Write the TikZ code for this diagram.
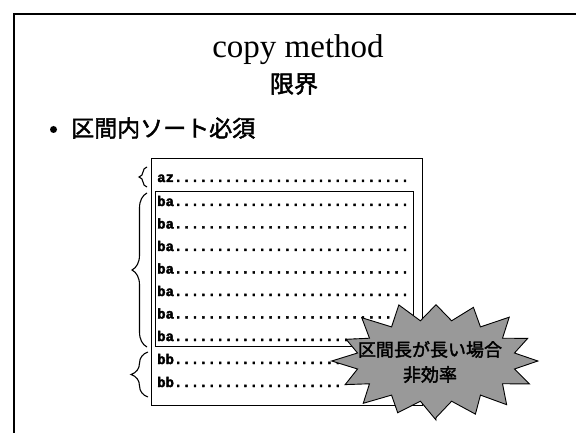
\documentclass[tikz,border=0pt]{standalone}
\usepackage{fontspec}
\setmainfont{Liberation Serif}
\newfontfamily\jp{Noto Sans CJK JP}[AutoFakeBold=2]
\newfontfamily\mono{Liberation Mono Bold}[FakeBold=2.5]
\usetikzlibrary{decorations.pathreplacing}
\tikzset{
  rowtxt/.style={anchor=base west, inner sep=0pt, font=\mono\fontsize{14}{14}\selectfont},
  lbrace/.style={decorate, decoration={brace, amplitude=#1}, line width=1.1pt},
  boxframe/.style={draw, line width=0.8pt, inner sep=0pt, anchor=north west},
  burstfill/.style={fill=black!40, draw=black, line width=0.9pt}
}
\begin{document}
\begin{tikzpicture}[x=1pt,y=-1pt]
\useasboundingbox (0,0) rectangle (576,433);
% slide frame
\draw[line width=2pt] (14,433) -- (14,14) -- (576,14);
% titles
\node[anchor=base, inner sep=0pt, font=\fontsize{33}{33}\selectfont] (title) at (298,58) {copy method};
\node[inner sep=0pt, font=\jp\bfseries\fontsize{24}{24}\selectfont] (sub) at (294,84) {限界};
% bullet
\node[circle, fill, inner sep=0pt, minimum size=7pt] (bul) at (53.5,129.5) {};
\node[anchor=west, inner sep=0pt, font=\jp\bfseries\fontsize{23}{23}\selectfont] (item) at (71,128) {区間内ソート必須};
% boxes
\node[boxframe, minimum width=271pt, minimum height=247pt] (outer) at (151,158) {};
\node[boxframe, minimum width=258pt, minimum height=155pt] (inner) at (155,191) {};
% rows
\def\dd{............................}
\def\ds{....................}
\node[rowtxt] (r0) at (157,182) {az\dd};
\node[rowtxt] (r1) at (157,206) {ba\dd};
\node[rowtxt] (r2) at (157,228.5) {ba\dd};
\node[rowtxt] (r3) at (157,251) {ba\dd};
\node[rowtxt] (r4) at (157,273.5) {ba\dd};
\node[rowtxt] (r5) at (157,296) {ba\dd};
\node[rowtxt] (r6) at (157,318.5) {ba\dd};
\node[rowtxt] (r7) at (157,341) {ba\dd};
\node[rowtxt] (r8) at (157,364) {bb\ds};
\node[rowtxt] (r9) at (157,387) {bb\ds};
% braces
\coordinate (b0a) at (147,187); \coordinate (b0b) at (147,167);
\coordinate (b1a) at (147,347); \coordinate (b1b) at (147,193);
\coordinate (b2a) at (148,397); \coordinate (b2b) at (148,352);
\draw[lbrace=8pt] (b0a) -- (b0b);
\draw[lbrace=15pt] (b1a) -- (b1b);
\draw[lbrace=17pt] (b2a) -- (b2b);
% starburst
\filldraw[burstfill] plot[samples=33, domain=0:32, variable=\t]
  ({436+(mod(\t,2)<0.5 ? 101+4*sin(\t*97) : 80)*cos(\t*11.25+90)},
   {361+(mod(\t,2)<0.5 ? 59+3*sin(\t*131) : 41)*sin(\t*11.25+90)}) -- cycle;
\node[align=center, inner sep=0pt, font=\jp\bfseries\fontsize{18}{25}\selectfont] (burst) at (430,362)
  {区間長が長い場合\\非効率};
\end{tikzpicture}
\end{document}
